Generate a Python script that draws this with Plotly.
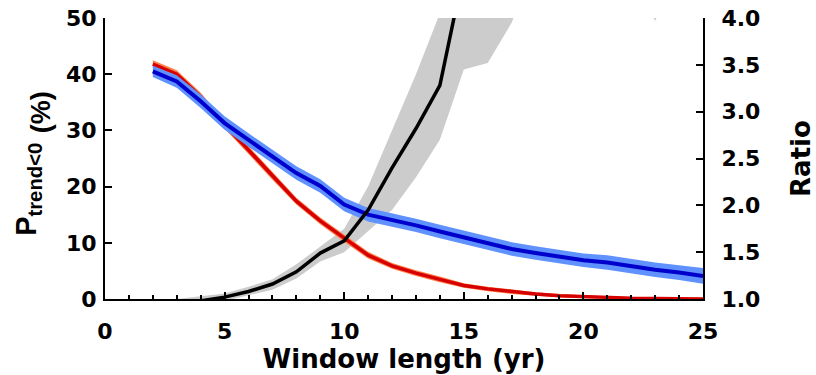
import plotly.graph_objects as go

# Window length (years)
window = [2, 3, 4, 5, 6, 7, 8, 9, 10, 11, 12, 13, 14, 15, 16, 17, 18, 19, 20, 21, 22, 23, 24, 25]

# Probability of a negative trend (%), two experiments, with spread bounds
p_red = [41.8, 40.0, 36.0, 31.0, 26.5, 21.9, 17.4, 13.9, 10.8, 7.8, 5.9, 4.6, 3.5, 2.4,
         1.8, 1.3, 0.9, 0.6, 0.4, 0.25, 0.15, 0.1, 0.05, 0.02]
p_red_lo = [41.1, 39.3, 35.3, 30.3, 25.8, 21.2, 16.8, 13.3, 10.2, 7.2, 5.4, 4.1, 3.0, 2.0,
            1.4, 0.9, 0.6, 0.3, 0.15, 0.05, 0.0, 0.0, 0.0, 0.0]
p_red_hi = [42.5, 40.7, 36.7, 31.7, 27.2, 22.6, 18.0, 14.5, 11.4, 8.4, 6.4, 5.1, 4.0, 2.8,
            2.2, 1.7, 1.2, 0.9, 0.65, 0.45, 0.35, 0.3, 0.25, 0.2]

p_blue = [40.5, 38.7, 35.2, 31.3, 28.3, 25.4, 22.4, 20.1, 16.8, 15.0, 14.1, 13.1, 12.0, 11.0,
          9.9, 8.9, 8.2, 7.5, 6.9, 6.5, 5.8, 5.2, 4.7, 4.1]
p_blue_lo = [39.5, 37.6, 34.0, 30.1, 27.1, 24.2, 21.2, 18.9, 15.6, 13.8, 12.9, 11.9, 10.8, 9.8,
             8.7, 7.7, 7.0, 6.3, 5.7, 5.2, 4.5, 3.9, 3.4, 2.7]
p_blue_hi = [41.5, 39.8, 36.4, 32.5, 29.5, 26.6, 23.6, 21.3, 18.0, 16.2, 15.3, 14.3, 13.2, 12.2,
             11.1, 10.1, 9.4, 8.7, 8.1, 7.8, 7.1, 6.5, 6.0, 5.5]

# Ratio between the two probabilities, with its spread bounds
ratio = [0.80, 0.88, 0.98, 1.02, 1.08, 1.16, 1.29, 1.49, 1.62, 1.95, 2.40, 2.82, 3.28, 4.50]
ratio_lo = [0.70, 0.80, 0.93, 0.98, 1.04, 1.10, 1.22, 1.40, 1.50, 1.72, 1.95, 2.30, 2.70, 3.45,
            3.52, 3.95, 4.60, 4.90, 5.20, 5.00, 4.40, 3.97, 4.50, 4.80]
ratio_hi = [0.92, 1.00, 1.03, 1.06, 1.13, 1.21, 1.37, 1.56, 1.75, 2.20, 2.80, 3.40, 4.05, 5.00,
            5.60, 6.20, 6.80, 7.30, 7.80, 8.20, 8.60, 9.00, 9.40, 9.80]

FONT = "DejaVu Sans"
TITLE_FONT = "Liberation Sans"
GRAY = "rgb(204,204,204)"
RED = "rgb(215,0,0)"
RED_BAND = "rgb(255,125,70)"
BLUE = "rgb(0,0,205)"
BLUE_BAND = "rgb(95,145,255)"

fig = go.Figure()

# ratio spread (bottom layer, axis y)
fig.add_trace(go.Scatter(x=window, y=ratio_lo, mode="lines", line=dict(width=0),
                         yaxis="y", hoverinfo="skip", showlegend=False))
fig.add_trace(go.Scatter(x=window, y=ratio_hi, mode="lines", line=dict(width=0),
                         fill="tonexty", fillcolor=GRAY, yaxis="y", showlegend=False))

# probability bands and lines (axis y2)
for lo, hi, mid, band_col, line_col, lw in [
    (p_red_lo, p_red_hi, p_red, RED_BAND, RED, 3.5),
    (p_blue_lo, p_blue_hi, p_blue, BLUE_BAND, BLUE, 4),
]:
    fig.add_trace(go.Scatter(x=window, y=lo, mode="lines", line=dict(width=0),
                             yaxis="y2", showlegend=False))
    fig.add_trace(go.Scatter(x=window, y=hi, mode="lines", line=dict(width=0),
                             fill="tonexty", fillcolor=band_col, yaxis="y2", showlegend=False))
    fig.add_trace(go.Scatter(x=window, y=mid, mode="lines", line=dict(color=line_col, width=lw),
                             yaxis="y2", showlegend=False))

# ratio line on top (axis y3, same scale as y)
fig.add_trace(go.Scatter(x=window[:len(ratio)], y=ratio, mode="lines",
                         line=dict(color="black", width=3.5), yaxis="y3", showlegend=False))

tick_font = dict(family=FONT, size=22, color="black", weight="bold")
title_font = dict(family=FONT, size=26, color="black", weight="bold")
axis_common = dict(showline=True, linecolor="black", linewidth=2, ticks="inside",
                   tickcolor="black", tickwidth=2, ticklen=7, showgrid=False,
                   zeroline=False, tickfont=tick_font, automargin=False)

fig.update_layout(
    width=816, height=375,
    margin=dict(l=105, r=113, t=18, b=76),
    paper_bgcolor="white", plot_bgcolor="white",
    xaxis=dict(range=[0, 25], tickvals=[0, 5, 10, 15, 20, 25],
               minor=dict(dtick=1, ticks="inside", ticklen=4, tickwidth=2, tickcolor="black"),
               ticklabelstandoff=12,
               title=dict(text="<b>Window length (yr)</b>", font=title_font, standoff=4),
               **axis_common),
    yaxis=dict(range=[1, 4], tickvals=[1, 1.5, 2, 2.5, 3, 3.5, 4], tickformat=".1f",
               side="right", ticklabelstandoff=12,
               title=dict(text="<b>Ratio</b>", font=title_font, standoff=34),
               **axis_common),
    yaxis2=dict(range=[0, 50], tickvals=[0, 10, 20, 30, 40, 50], overlaying="y", side="left",
                ticklabelstandoff=2, **axis_common),
    yaxis3=dict(range=[1, 4], overlaying="y", visible=False),
)

# left axis title: symbol with subscript, unit set slightly lower
fig.add_annotation(text="<b>P<sub>trend&lt;0</sub></b>", textangle=-90,
                   xref="paper", yref="paper", x=-0.128, y=0.39,
                   xanchor="center", yanchor="middle", showarrow=False,
                   font=dict(family=TITLE_FONT, size=29, color="black", weight="bold"))
fig.add_annotation(text="<b>(%)</b>", textangle=-90,
                   xref="paper", yref="paper", x=-0.107, y=0.665,
                   xanchor="center", yanchor="middle", showarrow=False,
                   font=dict(family=TITLE_FONT, size=27, color="black", weight="bold"))

fig.write_html("out.html")
